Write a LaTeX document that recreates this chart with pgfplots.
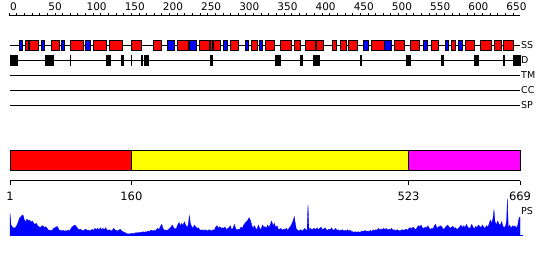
\documentclass[border=0pt]{standalone}
\usepackage{fontspec}
\setmainfont{DejaVu Sans}
\usepackage{pgfplots}
\usepackage{pgfplotstable}
\pgfplotsset{compat=1.18}
\definecolor{hred}{RGB}{255,0,0}
\definecolor{sblue}{RGB}{0,0,255}
\definecolor{dyel}{RGB}{255,255,0}
\definecolor{dmag}{RGB}{255,0,255}

\pgfplotstableread{
s e
21 25
26 38
56 66
80 97
110 128
131 148
160 173
189 200
220 235
249 262
263 266
267 277
290 300
317 325
336 347
355 370
374 382
388 401
403 412
424 428
434 442
444 456
475 491
504 518
526 538
553 562
579 585
597 609
617 632
635 645
648 661
}\helixtab

\pgfplotstableread{
s e
13 18
42 46
68 73
100 107
207 217
236 245
280 286
309 314
328 332
464 471
491 501
542 548
572 576
589 594
}\strandtab

\pgfplotstableread{
s e
1 11
48 58
80 80.4
128 132
147 150
160 160.4
173 174.5
177 183
263 266
349 355
382 384
399 407
460 462
520 521.2
523 525
566 569
610 614
647 649
661 669
}\disotab

\pgfplotstableread{
r h
1.0 21.7
2.3 10
4.1 8
6.2 6.7
8.4 7.7
10.2 10
11.9 13.3
13.7 17.3
15.4 18.3
17.2 20
18.5 19.3
19.8 15
21.5 13.3
23.3 16
25.0 14
26.8 15
28.5 12.7
30.3 14
32.0 11.7
33.7 10.7
35.5 11.7
37.2 9.3
39.0 8.3
40.7 7.3
42.5 9
44.2 9.3
46.0 7.3
47.7 8.3
49.5 6.7
51.2 5
53.0 5
54.7 4
56.5 5
58.2 6.7
59.9 7.3
61.7 8.3
63.4 8.3
65.2 5
66.9 4.7
68.7 4
70.4 4.7
72.2 4
73.9 4.3
75.7 4
77.4 5
79.2 4
80.9 6.7
82.6 8
84.4 9.3
86.1 10
87.9 8.3
89.6 6.7
91.4 5
93.1 6
94.9 4.7
96.6 4.3
98.4 5
100.1 6
101.9 4.7
103.6 5
105.4 4
107.1 4.7
108.8 5.7
110.6 4.7
112.3 6.7
114.1 5.3
115.8 6.7
117.6 5
119.3 7.3
121.1 5.3
122.8 6.7
124.6 5.3
126.3 7.3
128.1 5
129.8 4.7
131.5 5.3
133.3 4
135.0 4.7
136.8 6.7
138.5 5
140.3 4.7
142.0 4
143.8 5
145.5 5.7
147.3 4
149.0 3.3
150.8 2.7
152.5 2
154.3 1.3
156.0 1
157.7 1.3
159.5 1.3
161.2 1.7
163.0 1.3
164.7 2
166.5 2.3
168.2 2
170.0 2.7
171.7 2.3
173.5 2.7
175.2 3.3
177.0 2.7
178.7 3.3
180.4 3
182.2 4
183.9 3.3
185.7 5
187.4 4
189.2 4.7
190.9 4
192.7 5.3
194.4 6.7
196.2 5.3
197.9 8.3
199.7 10.7
201.4 6.7
203.2 4.7
204.9 5
206.6 4.7
208.4 5.3
210.1 6.7
211.9 8
213.6 10
215.4 7.3
217.1 6
218.9 6.7
220.6 10
222.4 12.7
224.1 9.3
225.9 11.7
227.6 9.3
229.3 13.3
231.1 10
232.8 7.3
234.6 10.7
235.9 19.3
237.2 11.7
239.0 8.3
240.7 6.7
242.4 10
244.2 8
245.9 6.7
247.7 7.3
249.4 5.3
251.2 4.7
252.9 5.3
254.7 4
256.4 5.3
258.2 4.7
259.9 4
261.7 5.3
263.4 4.7
265.1 4
266.9 5.3
268.6 4.7
270.4 8
272.1 9.3
273.9 6.7
275.6 8.3
277.4 6.7
279.1 7.3
280.9 6.7
282.6 8
284.4 5.3
286.1 6.7
287.9 7.3
289.6 9.3
291.3 5.3
293.1 6.7
294.8 10.7
296.6 6.7
298.3 4.7
300.1 6
301.8 5.3
303.6 8
305.3 6.7
307.1 10
308.8 11.7
310.6 13.3
312.3 14.7
314.0 17.3
315.8 15
317.5 10
319.3 6.7
321.0 9.3
322.8 6.7
324.5 5.3
326.3 10
328.0 6.7
329.8 5.3
331.5 10
333.3 8
335.0 8.3
336.8 6.7
338.5 10
340.2 7.3
342.0 10.7
343.7 14
345.5 9.3
347.2 11.7
349.0 7.3
350.7 9.3
352.5 6
354.2 5.3
356.0 6.7
357.7 4.7
359.5 6
361.2 5.3
362.9 6.7
364.7 4.7
366.4 6.7
368.2 8.3
369.9 10.7
371.7 14
373.4 18.3
374.3 13.3
376.0 6
377.8 4.7
379.5 4
381.3 5.3
383.0 4.7
384.8 4
386.5 6.7
388.3 5.3
390.0 4.7
391.3 30
392.6 5.3
394.4 6.7
396.1 5.3
397.9 6
399.6 6.7
401.4 5.3
403.1 7.3
404.9 5.3
406.6 6.7
408.4 8
410.1 5.3
411.8 6
413.6 7.3
415.3 5.3
417.1 4.7
418.8 6
420.6 5.3
422.3 7.3
424.1 4.7
425.8 5.3
427.6 6.7
429.3 4.7
431.1 5.3
432.8 4
434.5 4.7
436.3 5.3
438.0 4
439.8 4.7
441.5 4
443.3 5.3
445.0 4
446.8 4.7
448.5 3.3
450.3 3.3
452.0 2.7
453.8 3.3
455.5 2.7
457.3 3.3
459.0 2.7
460.7 3.3
462.5 4
464.2 3.3
466.0 4.7
467.7 3.3
469.5 4
471.2 3.3
473.0 4.7
474.7 3.3
476.5 5.3
478.2 4
480.0 5.3
481.7 4.7
483.4 6.7
485.2 5.3
486.9 6
488.7 5.3
490.4 6.7
492.2 5.3
493.9 6.7
495.7 4.7
497.4 6
499.2 5.3
500.9 6.7
502.7 4.7
504.4 5.3
506.2 4
507.9 5.3
509.6 4.7
511.4 4
513.1 4.7
514.9 5.3
516.6 4.7
518.4 5.3
520.1 6
521.9 4.7
523.6 6.7
525.4 7.3
527.1 6
528.9 8
530.6 6.7
532.3 5.3
534.1 7.3
535.8 9.3
537.6 8
539.3 10
541.1 7.3
542.8 6
544.6 8
546.3 6.7
548.1 9.3
549.8 7.3
551.6 5.3
553.3 6.7
555.1 6
556.8 9.3
558.5 10.7
560.3 6.7
562.0 8
563.8 8.7
565.5 9.3
567.3 7.3
569.0 5.3
570.8 7.3
572.5 8.7
574.3 10
576.0 8
577.8 6.7
579.5 8
581.2 8.7
583.0 6.7
584.7 7.3
586.5 5.3
588.2 6.7
590.0 8
591.7 10
593.5 7.3
595.2 9.3
597.0 7.3
598.7 10.7
600.5 8
602.2 6.7
604.0 7.3
605.7 10.7
607.4 8
609.2 6
610.9 8.7
612.7 7.3
614.4 10
616.2 8.7
617.9 7.3
619.7 10
621.4 8
623.2 6.7
624.9 9.3
626.7 8
628.4 10.7
630.1 15
631.9 11.7
633.6 16.7
634.9 25
636.3 13.3
638.0 10
639.7 14
641.5 10.7
643.2 10
645.0 13.3
646.7 8.7
648.5 7.3
650.2 9.3
651.5 15
652.4 36
653.7 6.7
655.5 10
657.2 6.7
659.0 9.3
660.7 8
662.5 9.3
664.2 6.7
665.9 9.3
667.7 16.7
669.0 18
}\pstab

\newcommand\boxrow[4]{%
  \pgfplotstablegetrowsof{#1}%
  \pgfmathtruncatemacro{\nrows}{\pgfplotsretval-1}%
  \pgfplotsforeachungrouped \rr in {0,...,\nrows}{%
    \pgfplotstablegetelem{\rr}{s}\of#1\let\bs\pgfplotsretval
    \pgfplotstablegetelem{\rr}{e}\of#1\let\be\pgfplotsretval
    \edef\tmp{\noexpand\addplot[draw=black, fill=#2, line width=1pt] coordinates {(\bs,#3)(\be,#3)(\be,#4)(\bs,#4)} -- cycle;}%
    \tmp}}

\begin{document}
\begin{tikzpicture}
\begin{axis}[name=main, scale only axis, width=550pt, height=260pt,
  xmin=-12.1, xmax=708.3, ymin=0, ymax=260, y dir=reverse,
  hide axis, clip=false]
\path (rel axis cs:0,0) rectangle (rel axis cs:1,1);
% top ruler
\addplot[black, line width=1pt] coordinates {(0,15.5)(669,15.5)};
\pgfplotsinvokeforeach{0,10,...,660}{\draw[line width=1pt] (axis cs:#1,15.5) -- (axis cs:#1,12.5);}
\pgfplotsinvokeforeach{0,50,...,650}{\node[anchor=base west, inner sep=0pt, xshift=0.8pt, font=\fontsize{10.5}{12}\selectfont] at (axis cs:#1,10.5) {#1};}
% feature rows
\addplot[black, line width=1pt] coordinates {(1,45)(669,45)};
\addplot[black, line width=1pt] coordinates {(1,60)(669,60)};
\addplot[black, line width=1pt] coordinates {(1,75)(669,75)};
\addplot[black, line width=1pt] coordinates {(1,90)(669,90)};
\addplot[black, line width=1pt] coordinates {(1,105)(669,105)};
\boxrow{\helixtab}{hred}{40}{50}
\boxrow{\strandtab}{sblue}{40}{50}
\boxrow{\disotab}{black}{55}{65}
\node[anchor=west, inner sep=0pt, xshift=1pt, font=\fontsize{9.5}{11}\selectfont] at (axis cs:669,45) {SS};
\node[anchor=west, inner sep=0pt, xshift=1pt, font=\fontsize{9.5}{11}\selectfont] at (axis cs:669,60) {D};
\node[anchor=west, inner sep=0pt, xshift=1pt, font=\fontsize{9.5}{11}\selectfont] at (axis cs:669,75) {TM};
\node[anchor=west, inner sep=0pt, xshift=1pt, font=\fontsize{9.5}{11}\selectfont] at (axis cs:669,90) {CC};
\node[anchor=west, inner sep=0pt, xshift=1pt, font=\fontsize{9.5}{11}\selectfont] at (axis cs:669,105) {SP};
% domain bar
\addplot[draw=black, fill=hred, line width=1pt] coordinates {(1,150)(160,150)(160,170)(1,170)} -- cycle;
\addplot[draw=black, fill=dyel, line width=1pt] coordinates {(160,150)(523,150)(523,170)(160,170)} -- cycle;
\addplot[draw=black, fill=dmag, line width=1pt] coordinates {(523,150)(669,150)(669,170)(523,170)} -- cycle;
% bottom ruler
\addplot[black, line width=1pt] coordinates {(1,180.5)(669,180.5)};
\pgfplotsinvokeforeach{1,160,523,669}{\draw[line width=1pt] (axis cs:#1,180.5) -- (axis cs:#1,185);
  \node[anchor=base, inner sep=0pt, font=\fontsize{11.5}{13}\selectfont] at (axis cs:#1,200) {#1};}
\node[anchor=west, inner sep=0pt, xshift=1pt, font=\fontsize{9.5}{11}\selectfont] at (axis cs:669,211) {PS};
\end{axis}
\begin{axis}[scale only axis, width=550pt, height=260pt,
  xmin=-12.1, xmax=708.3, ymin=-25, ymax=235, hide axis, clip=false]
\addplot[draw=sblue, fill=sblue, line width=0.3pt] table[x=r, y=h] {\pstab} \closedcycle;
\addplot[sblue, line width=1pt] coordinates {(1,0)(673,0)};
\end{axis}
\end{tikzpicture}
\end{document}
